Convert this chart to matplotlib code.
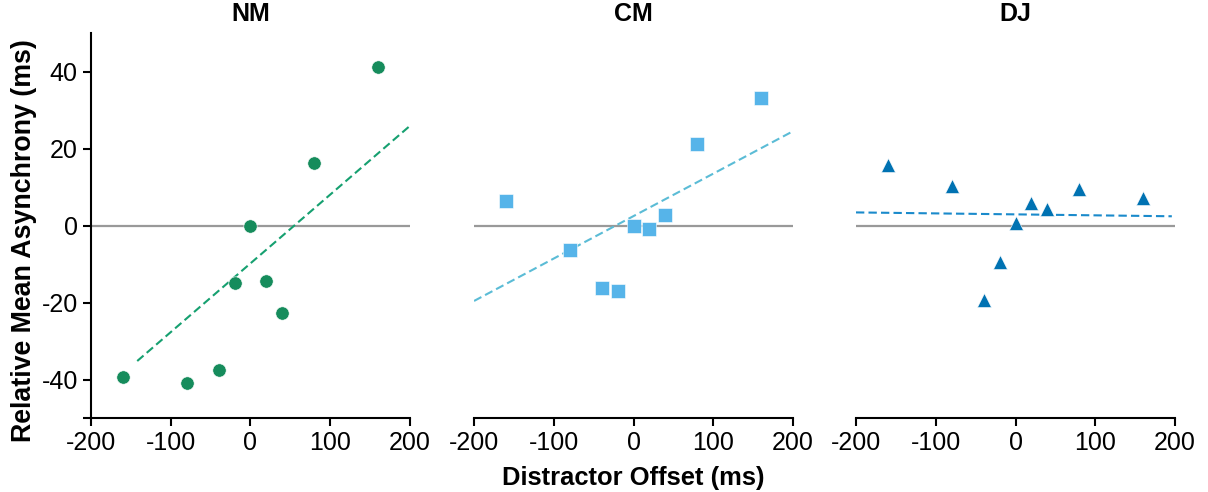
import matplotlib.pyplot as plt

plt.rcParams['font.family'] = ['Liberation Sans', 'DejaVu Sans']
plt.rcParams['axes.unicode_minus'] = False

# Distractor offsets (ms), same for every participant
offsets = [-160, -80, -40, -20, 0, 20, 40, 80, 160]

# Relative mean asynchrony (ms) per participant
nm_vals = [-39.3, -41.0, -37.5, -15.0, 0.0, -14.5, -22.6, 16.2, 41.3]
cm_vals = [6.4, -6.3, -16.3, -17.0, 0.0, -0.9, 2.7, 21.1, 33.0]
dj_vals = [15.6, 10.3, -19.3, -9.4, 0.6, 5.8, 4.2, 9.4, 7.2]

# Fitted line end points (x in ms, y in ms)
nm_fit_x = [-142, 200]
nm_fit_y = [-35.2, 25.9]
cm_fit_x = [-200, 200]
cm_fit_y = [-19.6, 24.5]
dj_fit_x = [-200, 196]
dj_fit_y = [3.4, 2.4]

titles = ['NM', 'CM', 'DJ']
colors = ['#168C5C', '#56B4E9', '#0072B2']
line_colors = ['#16A070', '#5BBCD6', '#1A8ACB']
markers = ['o', 's', '^']
sizes = [9.6, 10.0, 9.8]

fig = plt.figure(figsize=(12.08, 4.92), dpi=100)
lefts = [0.0753, 0.3924, 0.7086]
width = 0.2641
bottom = 0.1504
height = 0.7825

data = [nm_vals, cm_vals, dj_vals]
fits = [(nm_fit_x, nm_fit_y), (cm_fit_x, cm_fit_y), (dj_fit_x, dj_fit_y)]

for i in range(3):
    ax = fig.add_axes([lefts[i], bottom, width, height])
    ax.set_xlim(-200, 200)
    ax.set_ylim(-50, 50)

    # zero reference line
    ax.plot([-200, 200], [0, 0], color='#999999', lw=1.6, zorder=1)

    # fitted line
    fx, fy = fits[i]
    ax.plot(fx, fy, color=line_colors[i], lw=1.5, ls=(0, (4, 2)), zorder=2)

    # data points
    ax.plot(offsets, data[i], ls='none', marker=markers[i], ms=sizes[i],
            color=colors[i], mec='white', mew=0.4, zorder=3)

    ax.set_title(titles[i], fontsize=18, fontweight='bold', pad=9)

    for s in ['top', 'right']:
        ax.spines[s].set_visible(False)
    ax.spines['bottom'].set_linewidth(1.5)
    ax.set_xticks([-200, -100, 0, 100, 200])
    ax.tick_params(axis='x', labelsize=18, width=1.5, length=6, direction='out')

    if i == 0:
        ax.spines['left'].set_linewidth(1.5)
        ax.set_yticks([-50, -40, -20, 0, 20, 40])
        ax.set_yticklabels(['', '-40', '-20', '0', '20', '40'])
        ax.tick_params(axis='y', labelsize=18, width=1.5, length=6, direction='out')
        ax.set_ylabel('Relative Mean Asynchrony (ms)', fontsize=19.3,
                      fontweight='bold')
        ax.yaxis.set_label_coords(-0.168, 0.462)
    else:
        ax.spines['left'].set_visible(False)
        ax.set_yticks([])

    if i == 1:
        ax.set_xlabel('Distractor Offset (ms)', fontsize=18.4, fontweight='bold',
                      labelpad=8)

fig.savefig('out.png', dpi=100)
